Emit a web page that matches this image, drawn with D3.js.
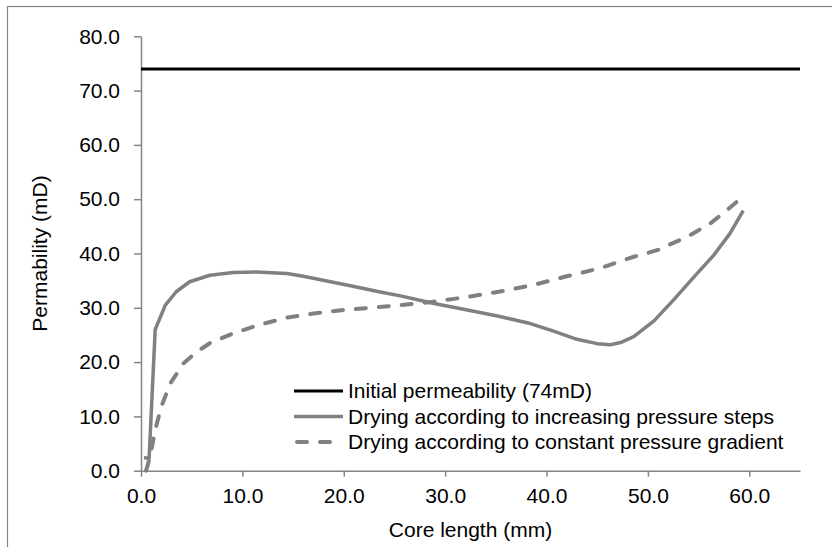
<!DOCTYPE html>
<html>
<head>
<meta charset="utf-8">
<script src="https://cdnjs.cloudflare.com/ajax/libs/d3/7.8.5/d3.min.js"></script>
<style>
  body { margin: 0; background: #fff; }
  svg { font-family: "Liberation Sans", Arial, sans-serif; }
  .axis path, .axis line { stroke: #868686; stroke-width: 1.5; }
  .axis text { font-size: 21px; fill: #000; }
</style>
</head>
<body>
<svg width="832" height="547"></svg>
<script>
// values
var initialLevel = 74
var initialX = [0, 65]

var stepsX = [0.3, 0.8, 1.4, 2.4, 3.5, 4.8, 6.8, 9.1, 11.4, 14.4, 16.0, 20.3, 23.6, 25.6, 28.9,
  32.2, 35.4, 38.4, 40.7, 43.0, 45.0, 46.3, 47.3, 48.6, 50.6, 52.6, 54.5, 56.5, 58.1, 59.4]
var stepsY = [2.4, 2.3, 26.0, 30.5, 33.0, 34.8, 36.0, 36.5, 36.6, 36.3, 35.8, 34.2, 32.9, 32.2, 30.8,
  29.6, 28.4, 27.1, 25.7, 24.2, 23.4, 23.2, 23.6, 24.7, 27.6, 31.6, 35.6, 39.7, 43.7, 47.9]

var gradientX = [0.5, 0.9, 1.4, 2.0, 2.9, 4.2, 5.5, 6.8, 9.1, 11.7, 14.4, 17.2, 20.0, 23.3, 25.6,
  28.8, 32.2, 35.4, 38.7, 42.0, 45.3, 48.6, 50.9, 51.7, 53.9, 56.2, 57.8, 59.0]
var gradientY = [0.0, 2.6, 7.5, 11.8, 16.1, 19.8, 21.9, 23.5, 25.3, 26.9, 28.2, 29.0, 29.6, 30.1, 30.5,
  31.1, 32.0, 33.0, 34.2, 35.8, 37.3, 39.4, 40.6, 41.3, 43.1, 45.6, 48.0, 49.9]

var xTicks = [0, 10, 20, 30, 40, 50, 60]
var yTicks = [0, 10, 20, 30, 40, 50, 60, 70, 80]

var legendLabels = [
  "Initial permeability (74mD)",
  "Drying according to increasing pressure steps",
  "Drying according to constant pressure gradient"
]

var svg = d3.select("svg")

// chart area border
svg.append("rect")
  .attr("x", 7.5).attr("y", 6.5)
  .attr("width", 900).attr("height", 700)
  .attr("fill", "none").attr("stroke", "#868686").attr("stroke-width", 1.2)

var
  x = d3.scaleLinear().domain([0, 65]).range([141, 800]),
  y = d3.scaleLinear().domain([0, 80]).range([470.7, 36.3])

var xAxis = svg.append("g").attr("class", "axis")
  .attr("transform", `translate(0,${y(0)})`)
  .call(d3.axisBottom(x).tickValues(xTicks).tickFormat(d3.format(".1f"))
    .tickSizeOuter(0).tickSizeInner(6).tickPadding(11))
xAxis.selectAll("text").attr("dy", "0.75em")

var yAxis = svg.append("g").attr("class", "axis")
  .attr("transform", `translate(${x(0)},0)`)
  .call(d3.axisLeft(y).tickValues(yTicks).tickFormat(d3.format(".1f"))
    .tickSizeOuter(0).tickSizeInner(7).tickPadding(14))

var line = d3.line()
  .x(d => x(d[0]))
  .y(d => y(d[1]))

svg.append("path")
  .attr("d", line(initialX.map(v => [v, initialLevel])))
  .attr("fill", "none").attr("stroke", "#000").attr("stroke-width", 3)

svg.append("path")
  .attr("d", line(stepsX.map((v, i) => [v, stepsY[i]])))
  .attr("fill", "none").attr("stroke", "#808080").attr("stroke-width", 3.5)
  .attr("stroke-linejoin", "round")

svg.append("path")
  .attr("d", line(gradientX.map((v, i) => [v, gradientY[i]])))
  .attr("fill", "none").attr("stroke", "#808080").attr("stroke-width", 4)
  .attr("stroke-linecap", "round").attr("stroke-dasharray", "10,13")

// legend
var legendStyles = [
  { stroke: "#000", width: 3, dash: null, cap: "butt" },
  { stroke: "#808080", width: 3.5, dash: null, cap: "butt" },
  { stroke: "#808080", width: 4, dash: "10,13", cap: "round" }
]

var legend = svg.append("g")
legendLabels.forEach(function(label, i) {
  var row = legend.append("g").attr("transform", `translate(294,${391 + i * 25.5})`)
  var s = legendStyles[i]
  row.append("line")
    .attr("x1", s.cap == "round" ? 3 : 0).attr("x2", 49)
    .attr("stroke", s.stroke).attr("stroke-width", s.width)
    .attr("stroke-linecap", s.cap)
    .attr("stroke-dasharray", s.dash)
  row.append("text")
    .attr("x", 54).attr("dy", "0.35em")
    .style("font-size", "21px")
    .text(label)
})

svg.append("text")
  .attr("x", (x(0) + x(65)) / 2).attr("y", 537)
  .style("text-anchor", "middle").style("font-size", "21px")
  .text("Core length (mm)")

svg.append("text")
  .attr("transform", `translate(47,${(y(0) + y(80)) / 2}) rotate(270)`)
  .style("text-anchor", "middle").style("font-size", "21px")
  .text("Permability (mD)")
</script>
</body>
</html>
